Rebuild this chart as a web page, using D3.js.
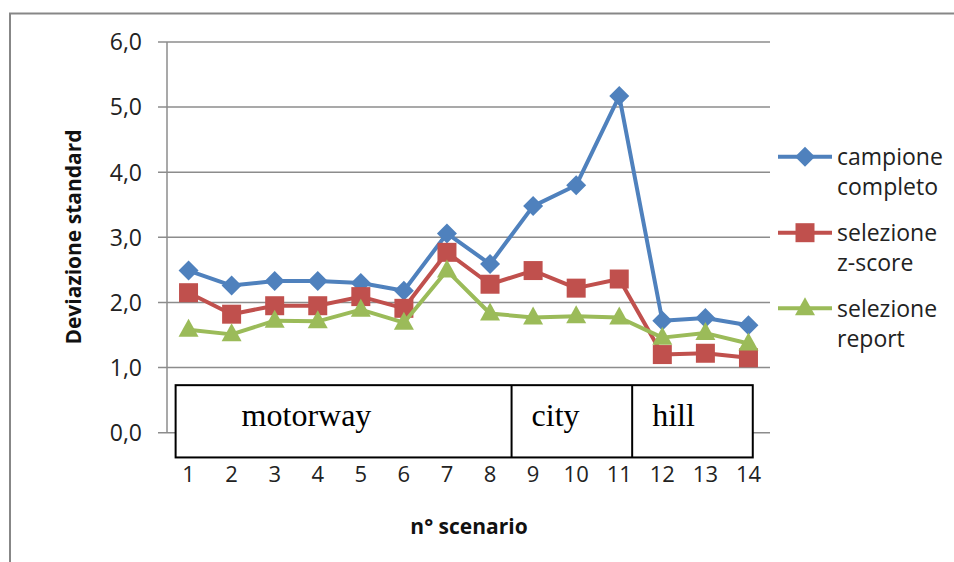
<!DOCTYPE html>
<html><head><meta charset="utf-8">
<script src="https://cdn.jsdelivr.net/npm/d3@7"></script>
<style>body{margin:0;background:#fff}svg{display:block}</style>
</head><body>
<script>
// ---- data ----
const categories = ["1","2","3","4","5","6","7","8","9","10","11","12","13","14"];
const campioneCompleto = [2.49,2.26,2.33,2.33,2.30,2.18,3.06,2.59,3.48,3.80,5.17,1.72,1.76,1.65];
const selezioneZscore  = [2.15,1.82,1.95,1.95,2.09,1.91,2.77,2.28,2.49,2.22,2.36,1.20,1.22,1.15];
const selezioneReport  = [1.58,1.51,1.72,1.71,1.89,1.69,2.49,1.83,1.77,1.79,1.77,1.46,1.53,1.37];
const seriesNames = [["campione","completo"],["selezione","z-score"],["selezione","report"]];
const yTicks = [0,1,2,3,4,5,6];
const regionLabels = ["motorway","city","hill"];
const regionBounds = [0.2, 8.0, 10.8, 13.6]; // in category-index units
const yTitle = "Deviazione standard";
const xTitle = "n° scenario";

const W = 954, H = 562;
const svg = d3.select("body").append("svg").attr("width", W).attr("height", H);
const font = "'Open Sans', sans-serif";

// outer chart border (extends past right/bottom of view)
svg.append("rect").attr("x",10).attr("y",13.5).attr("width",1000).attr("height",700)
  .attr("fill","none").attr("stroke","#878787").attr("stroke-width",2);

const plot = {left:167, right:770, top:42, bottom:432.7};
const x = d3.scaleBand().domain(categories).range([plot.left, plot.right]);
const xi = d3.scaleLinear().domain([0, categories.length]).range([plot.left, plot.right]);
const y = d3.scaleLinear().domain([0, 6]).range([plot.bottom, plot.top]);
const cx = d => x(d) + x.bandwidth()/2;

// gridlines
svg.append("g").selectAll("line").data(yTicks).join("line")
  .attr("x1", plot.left - 9).attr("x2", plot.right)
  .attr("y1", d => y(d)).attr("y2", d => y(d))
  .attr("stroke","#8c8c8c").attr("stroke-width",1.5);
// y axis line
svg.append("line").attr("x1",plot.left).attr("x2",plot.left)
  .attr("y1",y(6)).attr("y2",y(0)).attr("stroke","#8c8c8c").attr("stroke-width",1.5);
// y tick labels
svg.append("g").selectAll("text").data(yTicks).join("text")
  .attr("x", 142).attr("y", d => y(d)).attr("dy","0.36em")
  .attr("text-anchor","end").attr("font-family",font).attr("font-size",23).attr("fill","#222")
  .text(d => d3.format(".1f")(d).replace(".", ","));

// series
const colors = ["#4F81BD","#C0504D","#9BBB59"];
const allSeries = [campioneCompleto, selezioneZscore, selezioneReport];
const line = d3.line().x((d,i) => cx(categories[i])).y(d => y(d));
const symbols = [
  d3.symbol().type(d3.symbolDiamond2 || d3.symbolDiamond).size(190),
  d3.symbol().type(d3.symbolSquare).size(330),
  d3.symbol().type(d3.symbolTriangle).size(190)
];
const diamondPath = s => { const r = s; return `M0,${-r}L${r},0L0,${r}L${-r},0Z`; };
const markerPath = [ () => diamondPath(10), () => "M-9.5,-9.5H9.5V9.5H-9.5Z", () => "M0,-11L10,7H-10Z" ];

allSeries.forEach((vals, k) => {
  const g = svg.append("g");
  g.append("path").datum(vals).attr("d", line).attr("fill","none")
    .attr("stroke", colors[k]).attr("stroke-width",4).attr("stroke-linejoin","round");
  g.selectAll("path.m").data(vals).join("path").attr("class","m")
    .attr("transform",(d,i) => `translate(${cx(categories[i])},${y(d)})`)
    .attr("d", markerPath[k]).attr("fill", colors[k]);
});

// region box
const boxTop = y(0.73), boxBot = y(-0.38);
const rg = svg.append("g");
rg.append("rect").attr("x", xi(regionBounds[0])).attr("y", boxTop)
  .attr("width", xi(regionBounds[3]) - xi(regionBounds[0])).attr("height", boxBot - boxTop)
  .attr("fill","#fff").attr("stroke","#000").attr("stroke-width",2);
rg.selectAll("line").data(regionBounds.slice(1,3)).join("line")
  .attr("x1", d => xi(d)).attr("x2", d => xi(d)).attr("y1", boxTop).attr("y2", boxBot)
  .attr("stroke","#000").attr("stroke-width",2);
const labelOffsets = [66, 20, 20];
rg.selectAll("text").data(regionLabels).join("text")
  .attr("x", (d,i) => xi(regionBounds[i]) + labelOffsets[i]).attr("y", 426)
  .attr("font-family","'Liberation Serif', 'Times New Roman', serif").attr("font-size",32).attr("fill","#000")
  .text(d => d);

// x tick labels
svg.append("g").selectAll("text").data(categories).join("text")
  .attr("x", d => cx(d)).attr("y", 482).attr("text-anchor","middle")
  .attr("font-family",font).attr("font-size",22).attr("fill","#222").text(d => d);

// axis titles
svg.append("text").attr("transform","translate(81,237) rotate(-90)").attr("text-anchor","middle")
  .attr("font-family",font).attr("font-weight","bold").attr("font-size",21).attr("fill","#111").text(yTitle);
svg.append("text").attr("x",469).attr("y",534).attr("text-anchor","middle")
  .attr("font-family",font).attr("font-weight","bold").attr("font-size",21).attr("fill","#111").text(xTitle);

// legend
const legY = [156.7, 232.7, 308.3];
const lg = svg.append("g");
seriesNames.forEach((lines, k) => {
  lg.append("line").attr("x1",778).attr("x2",832).attr("y1",legY[k]).attr("y2",legY[k])
    .attr("stroke",colors[k]).attr("stroke-width",4);
  lg.append("path").attr("transform",`translate(805,${legY[k]})`).attr("d",markerPath[k]()).attr("fill",colors[k]);
  lg.append("text").attr("x",837).attr("y",legY[k] + 8.3)
    .attr("font-family",font).attr("font-size",23).attr("fill","#222")
    .selectAll("tspan").data(lines).join("tspan")
    .attr("x",837).attr("dy",(d,i) => i ? 30 : 0).text(d => d);
});
</script>
</body></html>
